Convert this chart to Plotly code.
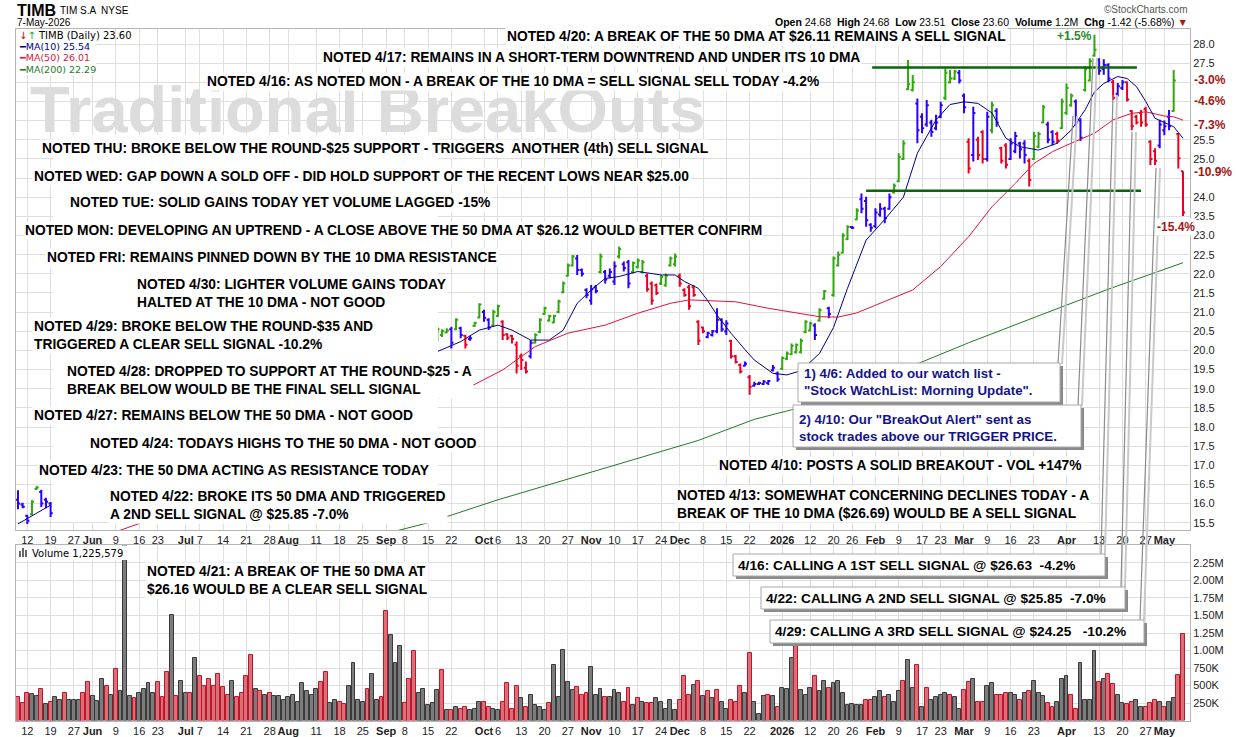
import pandas as pd
import plotly.graph_objects as go

W, H = 1240, 737
ARIAL = "Liberation Sans, Arial, sans-serif"
DEJAVU = "DejaVu Sans, Verdana, sans-serif"

# trading calendar for the year shown (exchange holidays removed)
holidays = ["2025-05-26", "2025-06-19", "2025-07-04", "2025-09-01", "2025-11-27",
            "2025-12-25", "2026-01-01", "2026-01-19", "2026-02-16", "2026-04-03"]
days = [d for d in pd.bdate_range("2025-05-08", "2026-05-07")
        if d.strftime("%Y-%m-%d") not in holidays]
pos = {d.strftime("%Y-%m-%d"): i for i, d in enumerate(days)}

# ---- price bars (bars 8..89 are hidden behind the note panel in the original) ----
HIDDEN = [None] * 82
opens = [16.10, 15.98, 15.68, 15.72, 16.38, 16.30, 16.10, 16.00] + HIDDEN + [
    20.30, 20.40, 20.47, 20.55, 20.55, 20.58, 20.38, 20.30, 20.64, 20.86,
    21.00, 20.80, 20.65, 20.90, 20.75, 20.42, 20.38, 20.15, 19.85, 19.55,
    19.85, 20.20, 20.48, 20.95, 20.78, 20.73, 21.00, 21.52, 21.95, 22.22,
    22.40, 22.10, 21.58, 21.30, 21.65, 22.05, 22.05, 21.95, 21.80, 22.45,
    22.25, 22.30, 22.05, 22.18, 22.05, 21.95, 21.75, 21.70, 21.75, 21.70,
    22.22, 22.25, 21.95, 21.58, 21.65, 21.65, 20.75, 20.60, 20.35, 20.40,
    20.50, 20.80, 20.50, 20.25, 19.85, 19.62, 19.60, 19.30, 19.08, 19.12,
    19.12, 19.15, 19.48, 19.40, 19.52, 19.78, 19.90, 19.95, 19.95, 20.48,
    20.52, 20.65, 20.78, 21.35, 21.10, 21.45, 22.22, 22.55, 22.90, 23.22,
    23.42, 23.95, 23.90, 23.28, 23.25, 23.55, 23.70, 23.70, 24.12, 24.42,
    25.00, 26.82, 26.80, 26.45, 26.10, 25.90, 25.95, 25.80, 26.10, 26.60,
    27.00, 27.10, 27.25, 26.65, 25.45, 25.10, 25.50, 25.70, 25.00, 25.75,
    26.25, 25.28, 25.35, 25.00, 25.20, 25.40, 25.40, 24.95, 25.00, 25.32,
    25.95, 25.90, 25.70, 25.65, 25.80, 26.20, 26.40, 26.50, 26.00, 26.80,
    27.05, 27.70, 27.60, 27.35, 27.45, 27.00, 26.70, 26.85, 27.00, 26.25,
    26.10, 26.20, 26.30, 25.45, 25.20, 25.35, 25.75, 26.10, 26.25, 25.65,
    24.68]
highs = [16.35, 16.02, 15.70, 16.09, 16.46, 16.36, 16.15, 16.04] + HIDDEN + [
    20.62, 20.55, 20.58, 20.62, 20.84, 20.62, 20.40, 20.38, 20.75, 21.23,
    21.06, 20.84, 21.06, 21.19, 20.79, 20.45, 20.40, 20.23, 19.92, 19.71,
    20.27, 20.45, 20.84, 21.14, 20.93, 20.93, 21.32, 21.80, 22.27, 22.49,
    22.49, 22.14, 21.62, 21.71, 21.71, 22.53, 22.10, 22.14, 22.32, 22.71,
    22.32, 22.36, 22.32, 22.40, 22.36, 22.01, 21.80, 21.75, 21.97, 22.01,
    22.45, 22.53, 22.01, 21.62, 21.71, 21.71, 20.79, 20.62, 20.49, 20.53,
    21.10, 20.84, 20.79, 20.27, 19.88, 19.66, 19.71, 19.36, 19.18, 19.18,
    19.23, 19.23, 19.62, 19.45, 19.84, 19.97, 20.18, 20.18, 20.31, 20.79,
    20.75, 20.71, 21.10, 21.58, 21.14, 22.45, 22.58, 23.06, 23.27, 23.25,
    23.71, 24.10, 24.01, 23.32, 23.71, 23.84, 23.75, 24.10, 24.36, 25.15,
    25.49, 27.58, 27.19, 26.58, 26.19, 26.54, 26.02, 26.15, 26.49, 27.36,
    27.32, 27.32, 27.32, 26.71, 25.54, 26.36, 25.58, 25.75, 26.23, 26.49,
    26.32, 25.32, 25.41, 25.54, 25.71, 25.45, 25.49, 25.01, 25.71, 25.71,
    26.41, 25.97, 25.75, 25.71, 26.58, 26.97, 26.71, 26.55, 26.06, 27.41,
    27.63, 28.24, 27.63, 27.60, 27.50, 27.06, 26.98, 27.06, 27.02, 26.28,
    26.15, 26.28, 26.36, 25.49, 25.28, 26.02, 26.00, 26.28, 27.32, 25.67,
    24.68]
lows = [15.85, 15.88, 15.47, 15.70, 16.36, 15.91, 15.88, 15.65] + HIDDEN + [
    20.23, 20.35, 20.45, 20.05, 20.53, 20.32, 20.05, 20.25, 20.62, 20.84,
    20.75, 20.53, 20.62, 20.88, 20.27, 20.27, 20.18, 19.40, 19.49, 19.40,
    19.79, 20.18, 20.45, 20.93, 20.75, 20.71, 20.97, 21.49, 21.93, 22.19,
    21.97, 21.93, 21.36, 21.19, 21.49, 22.01, 21.75, 21.88, 21.71, 22.40,
    22.06, 21.62, 22.01, 22.14, 22.01, 21.53, 21.19, 21.45, 21.71, 21.66,
    22.19, 22.19, 21.66, 21.40, 21.06, 21.40, 20.14, 20.45, 20.32, 20.36,
    20.45, 20.49, 20.40, 19.79, 19.66, 19.40, 19.58, 18.84, 19.05, 19.10,
    19.10, 19.10, 19.45, 19.18, 19.49, 19.75, 19.88, 19.92, 19.92, 20.45,
    20.50, 20.27, 20.75, 21.32, 20.84, 21.40, 22.19, 22.53, 22.88, 23.17,
    23.40, 23.58, 23.23, 23.10, 23.19, 23.49, 23.32, 23.67, 24.10, 24.40,
    24.97, 26.80, 26.76, 25.41, 25.67, 25.84, 25.58, 25.75, 26.06, 26.54,
    26.97, 27.06, 26.97, 26.19, 24.62, 24.93, 24.97, 24.88, 24.93, 25.67,
    25.84, 24.88, 24.75, 24.97, 25.15, 25.01, 24.88, 24.28, 24.97, 25.28,
    25.93, 25.41, 25.36, 25.40, 25.78, 26.15, 26.36, 25.85, 25.47, 26.76,
    27.02, 27.67, 27.20, 27.20, 27.00, 26.54, 26.63, 26.80, 26.50, 25.75,
    25.90, 25.84, 25.84, 24.84, 24.84, 25.28, 25.62, 25.75, 26.23, 24.75,
    23.51]
closes = [16.00, 15.92, 15.55, 16.05, 16.42, 16.00, 16.05, 15.75] + HIDDEN + [
    20.55, 20.50, 20.52, 20.20, 20.80, 20.40, 20.15, 20.32, 20.72, 21.20,
    20.85, 20.60, 21.00, 21.15, 20.40, 20.33, 20.30, 19.60, 19.75, 19.45,
    20.20, 20.40, 20.80, 21.10, 20.90, 20.90, 21.28, 21.75, 22.22, 22.45,
    22.10, 22.00, 21.45, 21.60, 21.55, 22.45, 21.85, 22.05, 22.20, 22.65,
    22.15, 21.75, 22.28, 22.35, 22.30, 21.60, 21.30, 21.50, 21.92, 21.95,
    22.40, 22.45, 21.75, 21.45, 21.15, 21.45, 20.25, 20.50, 20.45, 20.50,
    20.80, 20.55, 20.70, 19.85, 19.70, 19.45, 19.65, 19.05, 19.12, 19.15,
    19.18, 19.20, 19.55, 19.25, 19.80, 19.92, 20.12, 20.15, 20.25, 20.75,
    20.70, 20.40, 21.05, 21.55, 20.95, 22.40, 22.50, 23.00, 23.22, 23.20,
    23.65, 23.70, 23.40, 23.20, 23.60, 23.70, 23.45, 24.00, 24.30, 25.05,
    25.40, 26.95, 27.00, 25.75, 25.80, 26.40, 25.70, 25.95, 26.40, 27.25,
    27.10, 27.28, 27.05, 26.35, 24.75, 26.20, 25.10, 25.00, 26.10, 26.40,
    25.95, 24.95, 24.85, 25.40, 25.60, 25.25, 25.10, 24.45, 25.60, 25.65,
    26.35, 25.50, 25.45, 25.48, 26.50, 26.85, 26.65, 25.95, 25.55, 27.35,
    27.55, 27.85, 27.30, 27.45, 27.10, 26.60, 26.90, 27.00, 26.55, 25.85,
    25.95, 25.95, 25.90, 25.00, 24.95, 25.90, 25.85, 25.85, 27.05, 25.02,
    23.60]
# bar colour as drawn: g = green, b = blue, r = red
trend = list("bbbggbbb") + ["-"] * 82 + list(
    "gggbgbrbgg" "bbggrrrrrr" "bggggggggg" "bbbbbgbbbg" "bbgggrrrgg"
    "ggrrrrrrbb" "bbbrrrbrbb" "bbbbgggggg" "gbggbggggb" "gbbbbbbbgg"
    "gggbbbbbbg" "ggbbrbrrbg" "brrbbbbrgg" "gbbrgggbbg" "ggbbbrbbrr"
    "rrrrrbbbgr" "r")

# ---- moving averages (index, value); None = hidden ----
ma10_x = [0, 7, None, 90, 95, 99, 103, 106, 110, 114, 117, 120, 123, 126, 129, 133, 138,
          141, 143, 146, 148, 150, 153, 156, 158, 162, 165, 168, 172, 175, 178, 182, 186,
          190, 193, 197, 200, 203, 206, 209, 212, 215, 219, 223, 226, 229, 231, 233, 236,
          238, 240, 242, 244, 246, 248, 250]
ma10_y = [15.47, 15.96, None, 19.97, 20.23, 20.53, 20.66, 20.53, 20.27, 20.27, 20.53, 21.23,
          21.58, 21.88, 21.93, 22.06, 21.97, 21.97, 21.80, 21.62, 21.30, 20.92, 20.45, 20.02,
          19.75, 19.40, 19.36, 19.47, 19.92, 20.60, 21.62, 22.88, 23.42, 24.00, 25.15, 26.02,
          26.42, 26.49, 26.45, 26.20, 25.54, 25.32, 25.23, 25.41, 25.75, 26.28, 26.75, 26.97,
          27.15, 27.10, 26.89, 26.50, 26.06, 25.95, 25.84, 25.54]
ma50_x = [20, 26, None, 90, 97, 104, 111, 118, 126, 133, 140, 144, 148, 154, 161, 168, 172,
          176, 180, 184, 192, 198, 204, 209, 214, 218, 222, 226, 231, 235, 239, 242, 246, 248, 250]
ma50_y = [15.22, 15.48, None, 18.75, 19.05, 19.49, 20.10, 20.45, 20.66, 20.97, 21.23, 21.32,
          21.30, 21.27, 21.10, 20.95, 20.88, 20.87, 20.98, 21.18, 21.58, 22.19, 22.97, 23.75,
          24.36, 24.88, 25.19, 25.41, 25.67, 26.02, 26.19, 26.23, 26.12, 26.10, 26.01]
ma200_x = [80, 88, 103, 125, 146, 158, 166, 176, 190, 204, 220, 234, 250]
ma200_y = [15.25, 15.50, 16.10, 16.90, 17.65, 18.20, 18.45, 18.80, 19.50, 20.20, 20.95, 21.60, 22.29]

# ---- volume (millions) and its direction ----
volume_m = [
    0.34, 0.25, 0.40, 0.38, 0.35, 0.45, 0.24, 0.26, 0.33, 0.30,
    0.39, 0.29, 0.30, 0.30, 0.39, 0.55, 0.35, 0.28, 0.59, 0.50,
    0.36, 0.73, 0.42, 2.60, 0.35, 0.32, 0.40, 0.45, 0.53, 0.40,
    0.55, 0.33, 0.69, 1.50, 0.35, 0.57, 0.40, 0.40, 0.89, 0.64,
    0.49, 0.60, 0.50, 0.66, 0.48, 0.37, 0.56, 0.33, 0.39, 0.64,
    0.93, 0.45, 0.42, 0.37, 0.40, 0.35, 0.35, 0.30, 0.33, 0.37,
    0.26, 0.53, 0.42, 0.37, 0.45, 0.55, 0.70, 0.25, 0.29, 0.26,
    0.23, 0.49, 0.82, 0.30, 0.26, 0.45, 0.66, 0.30, 0.33, 1.56,
    1.22, 0.82, 1.07, 0.25, 0.59, 1.00, 0.40, 0.45, 0.22, 0.25,
    0.43, 0.72, 0.15, 0.15, 0.19, 0.17, 0.20, 0.15, 0.17, 0.27,
    0.27, 0.19, 0.17, 0.15, 0.27, 0.53, 0.16, 0.49, 0.32, 0.20,
    0.36, 0.22, 0.20, 0.15, 0.25, 0.80, 0.33, 1.01, 0.55, 0.43,
    0.48, 0.36, 0.39, 0.76, 0.36, 0.45, 0.33, 0.33, 0.43, 0.40,
    0.26, 0.47, 0.22, 0.32, 0.27, 0.25, 0.25, 0.32, 0.26, 0.17,
    0.30, 0.15, 0.30, 0.64, 0.37, 0.51, 0.57, 0.35, 0.42, 0.32,
    0.43, 0.27, 0.17, 0.29, 0.26, 0.49, 0.39, 0.97, 0.26, 0.10,
    0.35, 0.37, 0.35, 0.19, 0.46, 0.45, 0.90, 1.15, 0.43, 0.37,
    0.46, 0.63, 0.42, 0.57, 0.46, 0.53, 0.56, 0.39, 0.22, 0.23,
    0.22, 0.22, 0.30, 0.29, 0.33, 0.42, 0.33, 0.37, 0.26, 0.42,
    0.56, 0.86, 0.47, 0.79, 0.19, 0.46, 0.30, 0.33, 0.37, 0.39,
    0.36, 0.33, 0.17, 0.44, 0.55, 0.60, 0.27, 0.27, 0.50, 0.54,
    0.36, 0.37, 0.39, 0.40, 0.36, 0.30, 0.40, 0.42, 0.56, 0.39,
    0.35, 0.25, 0.19, 0.27, 0.60, 0.63, 0.36, 0.17, 0.82, 0.30,
    0.29, 0.99, 0.55, 0.60, 0.67, 0.52, 0.36, 0.25, 0.23, 0.26,
    0.29, 0.20, 0.20, 0.25, 0.29, 0.27, 0.19, 0.27, 0.32, 0.65,
    1.23]
vol_dir = list(
    "rrrggrgrgg" "rgggrrgggr" "grgggrgggg" "rrrgrggrgr" "rrrrrrgrrr"
    "rgrgrggggg" "gggggrrggr" "rggggrggrr" "gggrrrgggg" "grgrgrrggg"
    "rrggrrrrgr" "ggggrggggg" "rrrgggrggg" "rrgrgrrggg" "ggrrrgrgrg"
    "rggrrrgrgg" "grgrgggrgg" "grggrggggg" "ggrrggrggg" "rggrgrgggg"
    "rggrrgrrgg" "rrrggrgrgg" "grrgggrrgg" "ggrgrrggrr" "ggrrrgrggr"
    "r")

# ---- axis labels ----
tick_dates = ["2025-05-12", "2025-05-19", "2025-05-27", "2025-06-02", "2025-06-09",
              "2025-06-16", "2025-06-23", "2025-07-01", "2025-07-07", "2025-07-14",
              "2025-07-21", "2025-07-28", "2025-08-01", "2025-08-11", "2025-08-18",
              "2025-08-25", "2025-09-02", "2025-09-08", "2025-09-15", "2025-09-22",
              "2025-10-01", "2025-10-06", "2025-10-13", "2025-10-20", "2025-10-27",
              "2025-11-03", "2025-11-10", "2025-11-17", "2025-11-24", "2025-12-01",
              "2025-12-08", "2025-12-15", "2025-12-22", "2026-01-02", "2026-01-12",
              "2026-01-20", "2026-01-26", "2026-02-02", "2026-02-09", "2026-02-17",
              "2026-02-23", "2026-03-02", "2026-03-09", "2026-03-16", "2026-03-23",
              "2026-04-01", "2026-04-13", "2026-04-20", "2026-04-27", "2026-05-01"]
tick_labels = ["12", "19", "27", "<b>Jun</b>", "9", "16", "23", "<b>Jul</b>", "7", "14",
               "21", "28", "<b>Aug</b>", "11", "18", "25", "<b>Sep</b>", "8", "15", "22",
               "<b>Oct</b>", "6", "13", "20", "27", "<b>Nov</b>", "10", "17", "24", "<b>Dec</b>",
               "8", "15", "22", "<b>2026</b>", "12", "20", "26", "<b>Feb</b>", "9", "17",
               "23", "<b>Mar</b>", "9", "16", "23", "<b>Apr</b>", "13", "20", "27", "<b>May</b>"]
price_ticks = ["15.5", "16.0", "16.5", "17.0", "17.5", "18.0", "18.5", "19.0", "19.5", "20.0",
               "20.5", "21.0", "21.5", "22.0", "22.5", "23.0", "23.5", "24.0", "24.5", "25.0",
               "25.5", "26.0", "26.5", "27.0", "27.5", "28.0"]
covered_ticks = ["24.5", "26.0", "26.5", "27.0"]   # hidden under the % labels
vol_ticks = [0.25, 0.5, 0.75, 1.0, 1.25, 1.5, 1.75, 2.0, 2.25]
vol_tick_labels = ["250K", "500K", "750K", "1.00M", "1.25M", "1.50M", "1.75M", "2.00M", "2.25M"]

resistance, support = 27.39, 24.17


def fx(px):
    return px / W


def fy(py):
    return 1 - py / H


fig = go.Figure()

bar_colors = {"g": "#2fa80e", "b": "#2a00ff", "r": "#ec0020"}
for key, col in bar_colors.items():
    idx = [i for i in range(len(days)) if opens[i] is not None and trend[i] == key]
    fig.add_trace(go.Ohlc(
        x=idx, open=[opens[i] for i in idx], high=[highs[i] for i in idx],
        low=[lows[i] for i in idx], close=[closes[i] for i in idx],
        increasing=dict(line=dict(color=col, width=2)),
        decreasing=dict(line=dict(color=col, width=2)),
        tickwidth=0.45, hoverinfo="skip", showlegend=False, xaxis="x", yaxis="y"))

for xs, ys, col in [(ma200_x, ma200_y, "#227a22"), (ma50_x, ma50_y, "#dc143c"),
                    (ma10_x, ma10_y, "#00008b")]:
    fig.add_trace(go.Scatter(x=xs, y=ys, mode="lines", line=dict(color=col, width=1),
                             connectgaps=False, hoverinfo="skip", showlegend=False,
                             xaxis="x", yaxis="y"))

fill = {"g": "#7c7c7c", "r": "#d8707a"}
edge = {"g": "#3a3a3a", "r": "#c4142a"}
fig.add_trace(go.Bar(
    x=list(range(len(days))), y=volume_m, width=0.84,
    marker=dict(color=[fill[c] for c in vol_dir],
                line=dict(color=[edge[c] for c in vol_dir], width=1)),
    hoverinfo="skip", showlegend=False, xaxis="x2", yaxis="y2"))

tickvals = [pos[d] for d in tick_dates]
xr = [(16 - 18) / 4.66, (1190 - 18) / 4.66]
axis_common = dict(showline=True, mirror=True, linecolor="#b4b4b4", linewidth=1,
                   gridcolor="#dedede", gridwidth=1, zeroline=False, ticks="",
                   tickfont=dict(family=ARIAL, size=11, color="#222"))

fig.update_layout(
    width=W, height=H, autosize=False,
    margin=dict(l=0, r=0, t=0, b=0),
    paper_bgcolor="white", plot_bgcolor="white",
    font=dict(family=ARIAL, color="#222"),
    showlegend=False, bargap=0,
    xaxis=dict(domain=[fx(16), fx(1190)], range=xr, anchor="y", tickvals=tickvals,
               ticktext=tick_labels, tickangle=0, rangeslider=dict(visible=False),
               **axis_common),
    yaxis=dict(domain=[fy(530), fy(29)], range=[15.311, 28.392], side="right",
               tickvals=[float(t) for t in price_ticks],
               ticktext=["" if t in covered_ticks else t for t in price_ticks], **axis_common),
    xaxis2=dict(domain=[fx(16), fx(1190)], range=xr, anchor="y2", tickvals=tickvals,
                ticktext=tick_labels, tickangle=0, **axis_common),
    yaxis2=dict(domain=[fy(720.5), fy(545)], range=[0, 2.507], side="right",
                tickvals=vol_ticks, ticktext=vol_tick_labels, **axis_common),
)


def rect(x0, y0, x1, y1, fillcolor, line=None, lw=0):
    return dict(type="rect", xref="paper", yref="paper", x0=fx(x0), x1=fx(x1),
                y0=fy(y1), y1=fy(y0), fillcolor=fillcolor, layer="above",
                line=dict(color=line or fillcolor, width=lw))


def seg(x0, y0, x1, y1, color, width):
    return dict(type="line", xref="paper", yref="paper", x0=fx(x0), y0=fy(y0),
                x1=fx(x1), y1=fy(y1), layer="above", line=dict(color=color, width=width))


shapes = [
    rect(53, 135, 438, 522, "white"),          # note panel covering the summer bars
    rect(16.5, 29.5, 96, 75, "white"),          # price legend background
    rect(16.5, 545.5, 136, 560, "white"),       # volume legend background
    dict(type="line", xref="x", yref="y", x0=183.3, x1=240.1, y0=resistance, y1=resistance,
         layer="above", line=dict(color="#0b650b", width=2.5)),
    dict(type="line", xref="x", yref="y", x0=182.0, x1=241.0, y0=support, y1=support,
         layer="above", line=dict(color="#0b650b", width=2.5)),
]
callouts = [((1058, 364), (1073, 116)), ((1078, 406), (1093, 58)), ((1101, 555), (1113, 95)),
            ((1121, 587), (1132, 132)), ((1140, 620), (1156, 168))]
for (xa, ya), (xb, yb) in callouts:
    shapes.append(seg(xa + 4, ya, xb + 4, yb, "#c9c9c9", 2))
    shapes.append(seg(xa, ya, xb, yb, "#8c8c8c", 1.2))
boxes = [(798, 363, 1060, 402), (793, 405, 1081, 447), (733, 554, 1105, 576),
         (761, 587, 1125, 609), (770, 620, 1144, 643)]
for x0, y0, x1, y1 in boxes:
    shapes.append(rect(x0 + 3, y0 + 3, x1 + 3, y1 + 3, "#8a8a8a"))
    shapes.append(rect(x0, y0, x1, y1, "white", "#a8a8a8", 1))
# tiny volume icon
for k, hgt in enumerate([6, 9, 7]):
    shapes.append(rect(19 + k * 3, 557 - hgt, 21 + k * 3, 557, "#666"))
fig.update_layout(shapes=shapes)


def label(x, y, text, size=13.8, color="#000", bg=None, anchor="left", family=ARIAL):
    a = dict(x=fx(x), y=fy(y), xref="paper", yref="paper", text=text, showarrow=False,
             xanchor=anchor, yanchor="middle", align="left",
             font=dict(family=family, size=size, color=color))
    if bg:
        a.update(bgcolor=bg, borderpad=1)
    return a


def note(x, y, *lines):
    return label(x, y, "<br>".join("<b>%s</b>" % s for s in lines), bg="white")


ann = [
    label(28, 110, "<b>Traditional BreakOuts</b>", size=65, color="#dcdcdc"),
    note(505, 37, "NOTED 4/20: A BREAK OF THE 50 DMA AT $26.11 REMAINS A SELL SIGNAL"),
    note(321, 58, "NOTED 4/17: REMAINS IN A SHORT-TERM DOWNTREND AND UNDER ITS 10 DMA"),
    note(205, 81, "NOTED 4/16: AS NOTED MON - A BREAK OF THE 10 DMA = SELL SIGNAL SELL TODAY -4.2%"),
    note(40, 149, "NOTED THU: BROKE BELOW THE ROUND-$25 SUPPORT - TRIGGERS  ANOTHER (4th) SELL SIGNAL"),
    note(32, 176, "NOTED WED: GAP DOWN A SOLD OFF - DID HOLD SUPPORT OF THE RECENT LOWS NEAR $25.00"),
    note(68, 203, "NOTED TUE: SOLID GAINS TODAY YET VOLUME LAGGED -15%"),
    note(23, 230, "NOTED MON: DEVELOPING AN UPTREND - A CLOSE ABOVE THE 50 DMA AT $26.12 WOULD BETTER CONFIRM"),
    note(45, 258, "NOTED FRI: REMAINS PINNED DOWN BY THE 10 DMA RESISTANCE"),
    note(135, 293, "NOTED 4/30: LIGHTER VOLUME GAINS TODAY", "HALTED AT THE 10 DMA - NOT GOOD"),
    note(32, 335, "NOTED 4/29: BROKE BELOW THE ROUND-$35 AND", "TRIGGERED A CLEAR SELL SIGNAL -10.2%"),
    note(65, 380, "NOTED 4/28: DROPPED TO SUPPORT AT THE ROUND-$25 - A",
         "BREAK BELOW WOULD BE THE FINAL SELL SIGNAL"),
    note(32, 415, "NOTED 4/27: REMAINS BELOW THE 50 DMA - NOT GOOD"),
    note(88, 443, "NOTED 4/24: TODAYS HIGHS TO THE 50 DMA - NOT GOOD"),
    note(37, 470, "NOTED 4/23: THE 50 DMA ACTING AS RESISTANCE TODAY"),
    note(108, 505, "NOTED 4/22: BROKE ITS 50 DMA AND TRIGGERED", "A 2ND SELL SIGNAL @ $25.85 -7.0%"),
    note(145, 580, "NOTED 4/21: A BREAK OF THE 50 DMA AT", "$26.16 WOULD BE A CLEAR SELL SIGNAL"),
    note(717, 465, "NOTED 4/10: POSTS A SOLID BREAKOUT - VOL +147%"),
    note(675, 504, "NOTED 4/13: SOMEWHAT CONCERNING DECLINES TODAY - A",
         "BREAK OF THE 10 DMA ($26.69) WOULD BE A SELL SIGNAL"),
    label(802, 382, "<b>1) 4/6: Added to our watch list -</b><br>"
                    "<b>\"Stock WatchList: Morning Update\".</b>", size=13.3, color="#14148a"),
    label(797, 428, "<b>2) 4/10: Our \"BreakOut Alert\" sent as</b><br>"
                    "<b>stock trades above our TRIGGER PRICE.</b>", size=13.3, color="#14148a"),
    label(736, 565, "<b>4/16: CALLING A 1ST SELL SIGNAL @ $26.63  -4.2%</b>", size=13.7),
    label(764, 598, "<b>4/22: CALLING A 2ND SELL SIGNAL @ $25.85  -7.0%</b>", size=13.7),
    label(773, 631, "<b>4/29: CALLING A 3RD SELL SIGNAL @ $24.25   -10.2%</b>", size=13.7),
    label(1074, 36, "<b>+1.5%</b>", size=12, color="#2a8a2a", anchor="center"),
    label(1192, 80, "<b>-3.0%</b>", size=12, color="#a31515", bg="white"),
    label(1192, 101, "<b>-4.6%</b>", size=12, color="#a31515", bg="white"),
    label(1192, 125, "<b>-7.3%</b>", size=12, color="#a31515", bg="white"),
    label(1192, 172, "<b>-10.9%</b>", size=12, color="#a31515", bg="white"),
    label(1155, 227, "<b>-15.4%</b>", size=12, color="#a31515", bg="white"),
    # header
    label(15, 10, "<b>TIMB</b>", size=16),
    label(58, 10, "TIM S.A  NYSE", size=10),
    label(15, 23, "7-May-2026", size=10),
    label(1190, 9, "\u00a9StockCharts.com", size=10, color="#555", anchor="right"),
    label(1190, 22, "<b>Open</b> 24.68  <b>High</b> 24.68  <b>Low</b> 23.51  <b>Close</b> 23.60  "
                    "<b>Volume</b> 1.2M  <b>Chg</b> -1.42 (-5.68%) <span style='color:#b01818'>\u25bc</span>",
          size=10.5, anchor="right"),
    # legends
    label(17, 35, "<span style='color:#dd0000'>\u2193</span><span style='color:#22aa22'>\u2191</span>"
                  " TIMB (Daily) 23.60", size=10, family=DEJAVU),
    label(17, 46.5, "\u2501MA(10) 25.54", size=9.5, color="#00008b", family=DEJAVU),
    label(17, 58, "\u2501MA(50) 26.01", size=9.5, color="#dc143c", family=DEJAVU),
    label(17, 69.5, "\u2501MA(200) 22.29", size=9.5, color="#1e7a1e", family=DEJAVU),
    label(30, 553, "Volume 1,225,579", size=10, family=DEJAVU),
]
fig.update_layout(annotations=ann)

fig.write_html("out.html", config={"displayModeBar": False},
               post_script="document.body.style.margin='0px';document.body.style.overflow='hidden';")
